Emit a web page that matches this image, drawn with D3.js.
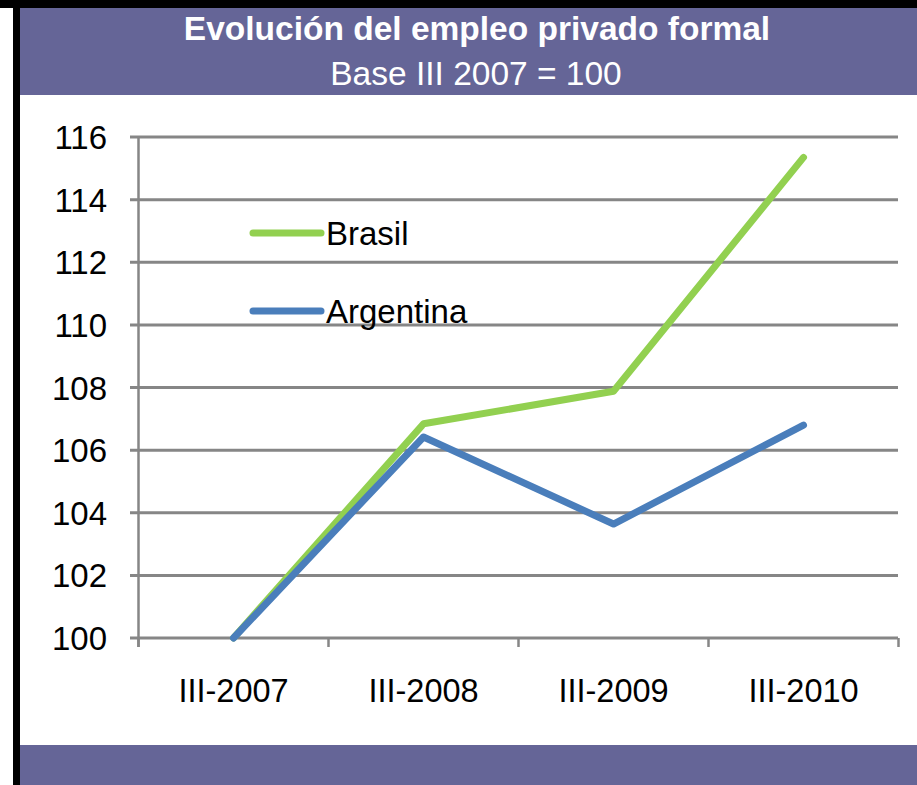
<!DOCTYPE html>
<html><head><meta charset="utf-8">
<script src="https://cdn.jsdelivr.net/npm/d3@7"></script>
<style>body{margin:0;background:#fff;}svg{display:block;}text{font-family:"Liberation Sans",Arial,sans-serif;}</style>
</head><body>
<script>
const categories = ["III-2007","III-2008","III-2009","III-2010"];
const brasil = [100, 106.84, 107.88, 115.35];
const argentina = [100, 106.42, 103.64, 106.8];
const yTicks = [100,102,104,106,108,110,112,114,116];
const seriesNames = ["Brasil","Argentina"];
const titleText = "Evolución del empleo privado formal";
const subtitleText = "Base III 2007 = 100";

const W=917,H=785;
const svg=d3.select("body").append("svg").attr("width",W).attr("height",H);
svg.append("rect").attr("width",W).attr("height",H).attr("fill","#fff");
// borders
svg.append("rect").attr("x",0).attr("y",0).attr("width",W).attr("height",8).attr("fill","#000");
svg.append("rect").attr("x",13).attr("y",0).attr("width",7).attr("height",H).attr("fill","#000");
// header
const purple="#656597";
svg.append("rect").attr("x",20).attr("y",8).attr("width",W-20).attr("height",87).attr("fill",purple);
svg.append("rect").attr("x",20).attr("y",745).attr("width",W-20).attr("height",40).attr("fill",purple);
svg.append("text").attr("x",477).attr("y",40).attr("text-anchor","middle").attr("fill","#fff")
  .attr("font-size",33.5).attr("font-weight","bold").text(titleText);
svg.append("text").attr("x",476).attr("y",85).attr("text-anchor","middle").attr("fill","#fff")
  .attr("font-size",33.5).text(subtitleText);

const x=d3.scaleBand().domain(categories).range([138.5,898.5]);
const y=d3.scaleLinear().domain([100,116]).range([638,137]);
const grid="#868686";
const g=svg.append("g");
// gridlines
g.selectAll("line.grid").data(yTicks).join("line")
  .attr("x1",130).attr("x2",898).attr("y1",d=>y(d)).attr("y2",d=>y(d))
  .attr("stroke",grid).attr("stroke-width",3);
// y axis line
g.append("line").attr("x1",138.5).attr("x2",138.5).attr("y1",y(116)).attr("y2",647).attr("stroke",grid).attr("stroke-width",2.5);
// x ticks
const xt=categories.map(c=>x(c)).concat([x.range()[1]]);
g.selectAll("line.xt").data(xt).join("line").attr("x1",d=>d).attr("x2",d=>d).attr("y1",638).attr("y2",647)
  .attr("stroke",grid).attr("stroke-width",2.5);
// y labels
g.selectAll("text.yl").data(yTicks).join("text").attr("x",107).attr("y",d=>y(d)+12)
  .attr("text-anchor","end").attr("font-size",33).attr("fill","#000").text(d=>d);
// x labels
g.selectAll("text.xl").data(categories).join("text").attr("x",d=>x(d)+x.bandwidth()/2).attr("y",702)
  .attr("text-anchor","middle").attr("font-size",32.5).attr("fill","#000").text(d=>d);

const line=d3.line().x((d,i)=>x(categories[i])+x.bandwidth()/2).y(d=>y(d));
const colors={Brasil:"#92D050",Argentina:"#4A7EBB"};
svg.append("path").datum(brasil).attr("d",line).attr("fill","none").attr("stroke",colors.Brasil)
  .attr("stroke-width",7).attr("stroke-linecap","round").attr("stroke-linejoin","round");
svg.append("path").datum(argentina).attr("d",line).attr("fill","none").attr("stroke",colors.Argentina)
  .attr("stroke-width",7).attr("stroke-linecap","round").attr("stroke-linejoin","round");

// legend
const ly={Brasil:233,Argentina:311};
seriesNames.forEach(n=>{
  svg.append("line").attr("x1",253).attr("x2",321).attr("y1",ly[n]).attr("y2",ly[n])
    .attr("stroke",colors[n]).attr("stroke-width",7).attr("stroke-linecap","round");
  svg.append("text").attr("x",326).attr("y",ly[n]+12).attr("font-size",33).attr("fill","#000").text(n);
});
</script>
</body></html>
